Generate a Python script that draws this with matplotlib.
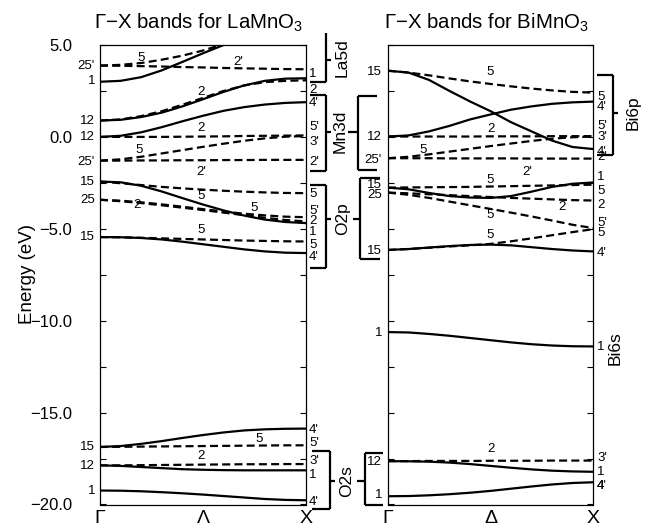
import numpy as np
import matplotlib.pyplot as plt
from matplotlib.ticker import MultipleLocator

plt.rcParams['font.family'] = ['Liberation Sans', 'DejaVu Sans']
plt.rcParams['mathtext.fontset'] = 'custom'
plt.rcParams['mathtext.rm'] = 'Liberation Sans'
plt.rcParams['mathtext.it'] = 'Liberation Sans:italic'

# k along Gamma -> X (0 = Gamma, 1 = X)
k = [0.0, 0.1, 0.2, 0.3, 0.4, 0.5, 0.6, 0.7, 0.8, 0.9, 1.0]

# ---------------- LaMnO3 bands (eV) ----------------
la_d25p_5  = [3.88, 3.92, 4.02, 4.20, 4.42, 4.70, 5.05, 5.45]
la_d25p_2p = [3.88, 3.87, 3.85, 3.83, 3.80, 3.78, 3.75, 3.73, 3.71, 3.69, 3.68]
la_s1      = [3.00, 3.05, 3.25, 3.62, 4.08, 4.55, 5.00, 5.45]
la_s12a    = [0.89, 0.93, 1.08, 1.32, 1.66, 2.05, 2.45, 2.80, 3.05, 3.17, 3.19]
la_d12a    = [0.89, 0.95, 1.13, 1.40, 1.75, 2.12, 2.50, 2.80, 2.98, 3.05, 3.08]
la_s12b    = [0.00, 0.06, 0.25, 0.53, 0.85, 1.15, 1.42, 1.62, 1.76, 1.85, 1.89]
la_d12b    = [0.00, 0.00, 0.00, 0.00, 0.01, 0.02, 0.03, 0.05, 0.06, 0.07, 0.08]
la_d25pb_5 = [-1.29, -1.22, -1.08, -0.90, -0.72, -0.54, -0.37, -0.21, -0.08, 0.01, 0.05]
la_d25pb_2p = [-1.29, -1.29, -1.28, -1.28, -1.27, -1.27, -1.26, -1.26, -1.25, -1.25, -1.25]
la_s15a    = [-2.43, -2.47, -2.66, -2.97, -3.33, -3.68, -4.00, -4.28, -4.50, -4.63, -4.69]
la_d15a    = [-2.43, -2.52, -2.62, -2.72, -2.80, -2.87, -2.93, -2.98, -3.02, -3.05, -3.06]
la_d25_2   = [-3.42, -3.50, -3.60, -3.72, -3.85, -3.98, -4.12, -4.26, -4.40, -4.52, -4.60]
la_d25_5   = [-3.42, -3.47, -3.56, -3.67, -3.80, -3.93, -4.06, -4.18, -4.27, -4.34, -4.37]
la_s15b    = [-5.45, -5.46, -5.50, -5.58, -5.70, -5.84, -5.98, -6.12, -6.23, -6.30, -6.32]
la_d15b    = [-5.45, -5.46, -5.49, -5.52, -5.55, -5.58, -5.61, -5.64, -5.66, -5.68, -5.69]
la_s15c    = [-16.87, -16.82, -16.70, -16.55, -16.38, -16.22, -16.08, -15.97, -15.91, -15.88, -15.87]
la_d15c    = [-16.87, -16.86, -16.85, -16.84, -16.83, -16.82, -16.81, -16.80, -16.79, -16.78, -16.78]
la_d12c    = [-17.87, -17.87, -17.86, -17.85, -17.84, -17.83, -17.82, -17.81, -17.81, -17.80, -17.80]
la_s12c    = [-17.87, -17.90, -17.96, -18.02, -18.08, -18.11, -18.13, -18.14, -18.14, -18.14, -18.14]
la_s1b     = [-19.24, -19.25, -19.28, -19.33, -19.39, -19.46, -19.54, -19.62, -19.70, -19.75, -19.77]

la_solid = [la_s1, la_s12a, la_s12b, la_s15a, la_s15b, la_s15c, la_s12c, la_s1b]
la_dashed = [la_d25p_5, la_d25p_2p, la_d12a, la_d12b, la_d25pb_5, la_d25pb_2p,
             la_d15a, la_d25_2, la_d25_5, la_d15b, la_d15c, la_d12c]

# ---------------- BiMnO3 bands (eV) ----------------
bi_s15a  = [3.60, 3.50, 3.10, 2.50, 1.93, 1.40, 0.80, 0.30, -0.20, -0.55, -0.66]
bi_d15a  = [3.60, 3.50, 3.35, 3.18, 3.02, 2.88, 2.75, 2.63, 2.53, 2.45, 2.41]
bi_s12a  = [0.02, 0.08, 0.30, 0.60, 0.95, 1.22, 1.48, 1.66, 1.80, 1.88, 1.92]
bi_d12a  = [0.02, 0.02, 0.02, 0.02, 0.02, 0.03, 0.03, 0.03, 0.04, 0.04, 0.04]
bi_d25p_5 = [-1.16, -1.08, -0.95, -0.80, -0.65, -0.50, -0.36, -0.22, -0.10, -0.02, 0.02]
bi_d25p_2p = [-1.16, -1.16, -1.16, -1.17, -1.17, -1.17, -1.17, -1.18, -1.18, -1.18, -1.18]
bi_s15b  = [-2.76, -2.85, -3.05, -3.22, -3.30, -3.32, -3.22, -2.98, -2.72, -2.55, -2.48]
bi_d15b  = [-2.76, -2.75, -2.74, -2.73, -2.72, -2.70, -2.68, -2.66, -2.64, -2.62, -2.60]
bi_d25_2 = [-3.03, -3.07, -3.12, -3.17, -3.22, -3.27, -3.32, -3.36, -3.40, -3.44, -3.46]
bi_d25_5 = [-3.03, -3.15, -3.32, -3.52, -3.72, -3.92, -4.12, -4.33, -4.55, -4.78, -4.96]
bi_s15c  = [-6.15, -6.10, -6.02, -5.94, -5.88, -5.86, -5.90, -6.00, -6.10, -6.18, -6.23]
bi_d15c  = [-6.15, -6.10, -6.03, -5.96, -5.90, -5.82, -5.68, -5.52, -5.35, -5.18, -5.02]
bi_s1a   = [-10.62, -10.64, -10.72, -10.82, -10.94, -11.06, -11.18, -11.28, -11.35, -11.39, -11.40]
bi_s12b  = [-17.64, -17.65, -17.67, -17.72, -17.80, -17.90, -18.00, -18.09, -18.16, -18.20, -18.22]
bi_d12b  = [-17.64, -17.64, -17.63, -17.63, -17.63, -17.62, -17.62, -17.62, -17.61, -17.61, -17.61]
bi_s1b   = [-19.55, -19.54, -19.50, -19.44, -19.36, -19.26, -19.14, -19.02, -18.91, -18.83, -18.79]

bi_solid = [bi_s15a, bi_s12a, bi_s15b, bi_s15c, bi_s1a, bi_s12b, bi_s1b]
bi_dashed = [bi_d15a, bi_d12a, bi_d25p_5, bi_d25p_2p, bi_d15b, bi_d25_2, bi_d25_5,
             bi_d15c, bi_d12b]

# symmetry labels at Gamma (text, energy) and at X
la_gamma = [("25'", 3.86), ('1', 3.04), ('12', 0.87), ('12', 0.0), ("25'", -1.36),
            ('15', -2.45), ('25', -3.42), ('15', -5.43), ('15', -16.85), ('12', -17.88),
            ('1', -19.29)]
la_xlab = [('1', 3.42), ('2', 2.55), ("4'", 1.85), ("5'", 0.54), ("3'", -0.27),
           ("2'", -1.36), ('5', -3.10), ("5'", -4.01), ('2', -4.57), ('1', -5.15),
           ('5', -5.87), ("4'", -6.52), ("4'", -15.92), ("5'", -16.68), ("3'", -17.65),
           ('1', -18.37), ("4'", -19.84)]
bi_gamma = [('15', 3.55), ('12', 0.02), ("25'", -1.25), ('15', -2.61), ('25', -3.15),
            ('15', -6.23), ('1', -10.67), ('12', -17.70), ('1', -19.49)]
bi_xlab = [('5', 2.19), ("4'", 1.65), ("5'", 0.62), ("3'", -0.02), ("4'", -0.80),
           ("2'", -1.07), ('1', -2.19), ('5', -2.92), ('2', -3.70), ("5'", -4.66),
           ('5', -5.23), ("4'", -6.29), ('1', -11.41), ("3'", -17.46), ('1', -18.24),
           ("4'", -19.0), ('4', -19.0)]

# Delta-line labels inside the panels (text, k, energy)
la_inner = [('5', 0.20, 4.28), ("2'", 0.67, 4.09), ('2', 0.49, 2.46), ('2', 0.49, 0.47),
            ('5', 0.19, -0.71), ("2'", 0.49, -1.89), ('5', 0.49, -3.24), ('2', 0.18, -3.70),
            ('5', 0.75, -3.88), ('5', 0.49, -5.05), ('5', 0.77, -16.41), ('2', 0.49, -17.38)]
bi_inner = [('5', 0.50, 3.55), ('2', 0.50, 0.42), ('5', 0.17, -0.71), ("2'", 0.68, -1.89),
            ('5', 0.50, -2.34), ('2', 0.85, -3.84), ('5', 0.50, -4.24), ('5', 0.50, -5.33),
            ('2', 0.50, -16.97)]

yticks = [5, 0, -5, -10, -15, -20]
ytick_labels = ['5.0', '0.0', '\u22125.0', '\u221210.0', '\u221215.0', '\u221220.0']

W, H = 650, 529
fig = plt.figure(figsize=(6.5, 5.29), dpi=100)
bot = 1 - 504.5 / H
hgt = 459.5 / H
axL = fig.add_axes([100 / W, bot, 206 / W, hgt])
axR = fig.add_axes([388 / W, bot, 205 / W, hgt])

dash = (0, (3.6, 1.9))


def draw_panel(ax, solid, dashed, inner, mid, title):
    for b in dashed:
        ax.plot(k[:len(b)], b, color='black', lw=1.6, ls=dash)
    for b in solid:
        ax.plot(k[:len(b)], b, color='black', lw=1.6)
    for t, kk, e in inner:
        ax.text(kk, e, t, fontsize=9.5, ha='center', va='center')
    ax.set_xlim(0, 1)
    ax.set_ylim(-20, 5)
    ax.set_xticks([0, 0.5, 1])
    ax.set_xticklabels(['\u0393', mid, 'X'], fontsize=14)
    ax.tick_params(axis='x', length=0, pad=4)
    ax.set_yticks(yticks)
    ax.yaxis.set_minor_locator(MultipleLocator(2.5))
    ax.tick_params(axis='y', which='both', direction='in', length=4,
                   left=True, right=True, width=0.8)
    for s in ax.spines.values():
        s.set_linewidth(0.9)
    ax.set_title(title, fontsize=14.7, pad=12, x=0.48)


draw_panel(axL, la_solid, la_dashed, la_inner, '\u039b',
           '\u0393\u2212X bands for LaMnO$_3$')
draw_panel(axR, bi_solid, bi_dashed, bi_inner, '\u0394',
           '\u0393\u2212X bands for BiMnO$_3$')
axL.set_yticklabels(ytick_labels, fontsize=12)
axL.tick_params(axis='y', pad=20)
axR.set_yticklabels([])

fig.text(28 / W, 1 - 274 / H, 'Energy (eV)', rotation=90, ha='center',
         va='center', fontsize=13.5)

# overlay in pixel x / energy y for the side labels and brackets
ov = fig.add_axes([0, bot, 1, hgt])
ov.set_xlim(0, W)
ov.set_ylim(-20, 5)
ov.axis('off')
ov.patch.set_alpha(0)

for t, e in la_gamma:
    ov.text(95, e, t, fontsize=9.5, ha='right', va='center')
for t, e in bi_gamma:
    ov.text(382, e, t, fontsize=9.5, ha='right', va='center')
for t, e in la_xlab:
    ov.text(309, e, t, fontsize=9.5, ha='left', va='center')
for t, e in bi_xlab:
    ov.text(597, e, t, fontsize=9.5, ha='left', va='center')

# brackets: vertical x, horizontal end x, top E (None = open), bottom E, tick end x, tick E
brackets = [
    (325.5, 310, None, 3.0, 331, 4.18),
    (325.5, 310, 2.28, -1.85, 331, 0.29),
    (325.5, 310, -2.61, -7.12, 331, -4.46),
    (330, 312, -17.1, -20.27, 335, -18.73),
    (358, 377, 2.23, -1.79, 348, 0.29),
    (360, 380, -2.23, -6.63, 353, -4.46),
    (365, 383, -17.19, -20.04, 357, -18.73),
    (613, 597, 3.37, -0.98, 618, 1.3),
]
for xv, xh, top, btm, xt, et in brackets:
    ytop = 5.65 if top is None else top
    kw = dict(color='black', lw=1.6, clip_on=False, solid_capstyle='butt')
    ov.plot([xv, xv], [ytop, btm], **kw)
    ov.plot([xh, xv], [btm, btm], **kw)
    if top is not None:
        ov.plot([xh, xv], [top, top], **kw)
    ov.plot([xv, xt], [et, et], **kw)

orbitals = [('La5d', 342, 4.3), ('Mn3d', 340, 0.29), ('O2p', 343, -4.46),
            ('O2s', 347, -18.73), ('Bi6p', 633, 1.3), ('Bi6s', 615, -11.5)]
for t, x, e in orbitals:
    ov.text(x, e, t, fontsize=12.5, rotation=90, ha='center', va='center')

fig.savefig('out.png', dpi=100)
